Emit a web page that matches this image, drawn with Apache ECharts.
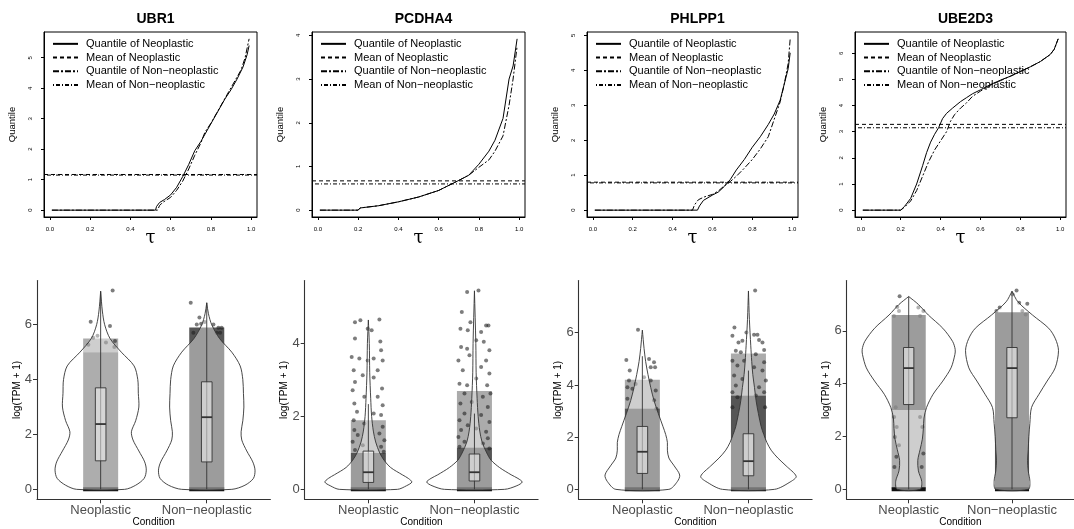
<!DOCTYPE html>
<html>
<head>
<meta charset="UTF-8">
<title>Quantile and violin plots</title>
<script src="https://cdn.jsdelivr.net/npm/echarts@6/dist/echarts.min.js"></script>
<style>
    html, body { margin: 0; padding: 0; background: #fff; }
    #chart { width: 1074px; height: 529px; }
</style>
</head>
<body>
<div id="chart"></div>
<script>
var genes = ['UBR1', 'PCDHA4', 'PHLPP1', 'UBE2D3'];
var conditions = ['Neoplastic', 'Non\u2212neoplastic'];
var legendNames = ['Quantile of Neoplastic', 'Mean of Neoplastic', 'Quantile of Non\u2212neoplastic', 'Mean of Non\u2212neoplastic'];
var tauTicks = [0, 0.2, 0.4, 0.6, 0.8, 1.0];
var tauRange = [0.01, 0.99];

// quantile curves, [tau, quantile]
var quantNeo = [
    [[0.01,0],[0.525,0],[0.53,0.12],[0.545,0.25],[0.57,0.35],[0.6,0.5],[0.63,0.75],[0.66,1.1],[0.69,1.5],[0.72,1.95],[0.75,2.25],[0.78,2.6],[0.81,2.95],[0.84,3.3],[0.87,3.65],[0.9,3.95],[0.93,4.3],[0.96,4.7],[0.98,5.1],[0.99,5.4]],
    [[0.01,0],[0.2,0],[0.21,0.05],[0.3,0.1],[0.4,0.19],[0.5,0.3],[0.6,0.45],[0.7,0.68],[0.75,0.8],[0.8,1.05],[0.85,1.35],[0.88,1.6],[0.92,2.1],[0.95,3.0],[0.97,3.3],[0.99,3.92]],
    [[0.01,0],[0.525,0],[0.535,0.12],[0.555,0.28],[0.6,0.43],[0.63,0.52],[0.66,0.68],[0.69,0.88],[0.72,1.15],[0.76,1.45],[0.8,1.8],[0.84,2.1],[0.88,2.45],[0.91,2.75],[0.94,3.15],[0.96,3.6],[0.98,4.05],[0.99,4.5]],
    [[0.01,0],[0.2,0],[0.22,0.15],[0.25,0.45],[0.28,1.0],[0.31,1.7],[0.33,2.2],[0.35,2.6],[0.37,2.9],[0.39,3.15],[0.41,3.5],[0.43,3.7],[0.46,3.9],[0.5,4.15],[0.53,4.3],[0.56,4.45],[0.6,4.6],[0.65,4.8],[0.7,4.97],[0.75,5.12],[0.8,5.3],[0.85,5.48],[0.9,5.68],[0.95,5.95],[0.97,6.15],[0.99,6.55]]
];
var quantNon = [
    [[0.01,0],[0.535,0],[0.545,0.15],[0.56,0.25],[0.6,0.42],[0.63,0.65],[0.66,0.95],[0.69,1.35],[0.72,1.8],[0.75,2.2],[0.77,2.55],[0.8,2.85],[0.83,3.2],[0.86,3.55],[0.89,3.9],[0.92,4.25],[0.95,4.6],[0.97,5.0],[0.99,5.62]],
    [[0.01,0],[0.2,0],[0.21,0.05],[0.3,0.1],[0.4,0.19],[0.5,0.3],[0.6,0.45],[0.7,0.68],[0.75,0.8],[0.8,0.98],[0.85,1.15],[0.88,1.35],[0.92,1.7],[0.95,2.4],[0.97,3.0],[0.99,3.75]],
    [[0.01,0],[0.5,0],[0.51,0.15],[0.53,0.3],[0.56,0.38],[0.6,0.45],[0.63,0.55],[0.66,0.7],[0.69,0.82],[0.72,0.97],[0.76,1.2],[0.8,1.45],[0.84,1.75],[0.88,2.1],[0.91,2.6],[0.94,3.1],[0.96,3.6],[0.98,4.2],[0.99,4.9]],
    [[0.01,0],[0.2,0],[0.22,0.12],[0.25,0.35],[0.28,0.75],[0.31,1.3],[0.34,1.85],[0.37,2.3],[0.4,2.65],[0.43,3.0],[0.45,3.4],[0.47,3.65],[0.5,3.9],[0.53,4.1],[0.56,4.35],[0.6,4.55],[0.65,4.78],[0.7,4.95],[0.75,5.12],[0.8,5.3],[0.85,5.48],[0.9,5.68],[0.95,5.95],[0.97,6.15],[0.99,6.55]]
];
var meanNeo = [1.17, 0.67, 0.80, 3.28];
var meanNon = [1.15, 0.60, 0.78, 3.15];

// violin outlines, [log(TPM+1), half width in category units]
var violinNeo = [
    [[0,0.226],[0.15,0.33],[0.4,0.41],[0.7,0.43],[1.0,0.415],[1.4,0.36],[1.8,0.305],[2.1,0.29],[2.5,0.33],[3.0,0.36],[3.5,0.355],[4.0,0.35],[4.5,0.315],[5.0,0.195],[5.5,0.088],[6.0,0.038],[6.5,0.016],[7.22,0]],
    [[0,0.274],[0.1,0.36],[0.2,0.41],[0.3,0.377],[0.4,0.32],[0.6,0.21],[0.8,0.148],[1.0,0.107],[1.3,0.069],[1.6,0.047],[2.0,0.031],[2.5,0.022],[3.2,0.013],[4.0,0.009],[4.65,0]],
    [[0,0.25],[0.3,0.33],[0.55,0.352],[0.9,0.3],[1.2,0.25],[1.5,0.236],[1.8,0.236],[2.1,0.22],[2.4,0.195],[2.9,0.151],[3.4,0.11],[3.9,0.079],[4.4,0.053],[4.9,0.031],[5.4,0.016],[6.1,0]],
    [[0,0.11],[0.3,0.126],[0.7,0.094],[1.1,0.088],[1.5,0.11],[1.9,0.132],[2.3,0.142],[2.7,0.148],[3.1,0.173],[3.6,0.236],[4.1,0.33],[4.6,0.41],[5.1,0.447],[5.3,0.45],[5.6,0.425],[6.1,0.33],[6.6,0.19],[7.0,0.094],[7.3,0]]
];
var violinNon = [
    [[0,0.236],[0.15,0.36],[0.4,0.44],[0.7,0.455],[1.0,0.434],[1.4,0.377],[1.8,0.33],[2.1,0.324],[2.5,0.34],[3.0,0.35],[3.5,0.346],[4.0,0.34],[4.5,0.315],[5.0,0.236],[5.5,0.12],[6.0,0.047],[6.4,0.016],[6.8,0]],
    [[0,0.283],[0.1,0.4],[0.2,0.45],[0.3,0.41],[0.4,0.346],[0.6,0.236],[0.8,0.157],[1.0,0.116],[1.3,0.072],[1.6,0.05],[2.0,0.035],[2.5,0.025],[3.2,0.016],[4.0,0.013],[5.45,0]],
    [[0,0.245],[0.3,0.4],[0.5,0.45],[0.9,0.355],[1.2,0.277],[1.5,0.214],[1.8,0.173],[2.1,0.145],[2.4,0.12],[2.9,0.094],[3.4,0.072],[3.9,0.057],[4.4,0.041],[4.9,0.031],[5.5,0.022],[6.5,0.009],[7.6,0]],
    [[0,0.157],[0.3,0.173],[0.7,0.157],[1.1,0.151],[1.5,0.157],[2.0,0.163],[2.5,0.173],[3.1,0.189],[3.6,0.261],[4.1,0.34],[4.6,0.418],[5.25,0.45],[5.7,0.42],[6.1,0.355],[6.6,0.198],[7.1,0.057],[7.5,0]]
];

// box stats, [lower whisker, Q1, median, Q3, upper whisker]
var boxNeo = [[0,1.04,2.38,3.70,7.22],[0,0.19,0.47,1.05,2.34],[0,0.61,1.44,2.41,5.1],[0,3.21,4.59,5.37,7.3]];
var boxNon = [[0,1.0,2.63,3.92,6.8],[0,0.23,0.47,0.97,2.08],[0,0.52,1.08,2.13,4.55],[0,2.71,4.59,5.37,7.5]];

// jittered point clouds, [category, from, to]
var cloudDense = [
    [[2,0,5.9]],
    [[1,0,1.0],[2,0,1.15]],
    [[1,0,3.1],[2,0,3.6]],
    [[1,3.0,6.6],[2,0,6.7]]
];
var cloudMid = [
    [[1,0,5.0]],
    [],
    [],
    []
];
var cloudLight = [
    [[1,5.0,5.5]],
    [[1,1.0,1.9],[2,1.15,2.7]],
    [[1,3.1,4.2],[2,3.6,5.2]],
    [[1,0,3.0]]
];

// sparse jittered points, [category, offset, value]
var pointsSparse = [
    [[1,0.113,7.25],[1,-0.094,6.11],[1,0.088,5.95],[1,-0.07,5.53],[1,-0.116,5.27],[1,0.135,5.41],[1,0.129,5.19],[1,-0.03,5.6],[1,0.05,5.35],
     [2,-0.151,6.8],[2,-0.069,6.26],[2,-0.094,6.01],[2,-0.053,6.04],[2,0.063,6.01],[2,0.11,5.89],[2,0.14,5.89],[2,0.094,5.71],[2,-0.126,5.71],[2,0.126,5.71],[2,-0.02,6.1]],
    [[1,-0.075,4.64],[1,-0.126,4.59],[1,0.104,4.66],[1,-0.006,4.41],[1,0.031,4.37],[1,-0.126,4.14],[1,0.113,4.06],[1,-0.157,3.63],[1,-0.085,3.59],[1,-0.006,3.54],
     [1,0.05,3.59],[1,0.12,3.82],[1,0.135,3.54],[1,-0.138,3.27],[1,-0.053,3.13],[1,0.088,3.27],[1,-0.126,2.95],[1,0.05,3.07],[1,0.129,2.77],[1,-0.148,2.72],
     [1,-0.038,2.54],[1,0.088,2.54],[1,-0.132,2.36],[1,0.135,2.31],[1,-0.107,2.13],[1,0.05,2.08],[1,0.12,2.04],[1,-0.138,1.9],[1,-0.038,1.81],[1,0.135,1.72],
     [1,-0.132,1.63],[1,0.104,1.53],[1,-0.1,1.49],[1,0.151,1.35],[1,-0.148,1.31],[1,-0.053,1.21],[1,0.12,1.17],[1,-0.126,1.08],[1,0.145,1.03],
     [2,-0.069,5.42],[2,0.038,5.46],[2,-0.119,4.87],[2,-0.038,4.59],[2,-0.132,4.41],[2,-0.063,4.37],[2,0.11,4.5],[2,0.132,4.5],[2,0.063,4.32],[2,-0.126,3.91],
     [2,-0.069,3.86],[2,0.016,4.09],[2,0.088,4.05],[2,-0.151,3.54],[2,-0.047,3.68],[2,0.11,3.54],[2,0.141,3.82],[2,-0.11,3.27],[2,0.063,3.36],[2,0.141,3.18],
     [2,-0.141,2.9],[2,-0.069,2.86],[2,0.016,3.04],[2,0.12,2.86],[2,-0.094,2.63],[2,0.079,2.54],[2,0.151,2.63],[2,-0.132,2.36],[2,-0.025,2.4],[2,0.126,2.26],
     [2,-0.094,2.08],[2,0.063,2.04],[2,-0.141,1.9],[2,0.141,1.85],[2,-0.063,1.76],[2,-0.126,1.63],[2,0.11,1.58],[2,0.016,1.67],[2,-0.151,1.44],[2,0.126,1.4],
     [2,-0.094,1.31],[2,0.079,1.26],[2,-0.141,1.17],[2,0.141,1.12]],
    [[1,-0.041,6.11],[1,-0.151,4.96],[1,0.063,4.99],[1,0.11,4.87],[1,0.12,4.68],[1,0.079,4.68],[1,-0.119,4.55],[1,-0.126,4.17],[1,-0.141,3.91],[1,-0.094,3.85],
     [1,-0.141,3.47],[1,0.079,4.17],[1,0.126,3.79],[1,0.11,3.41],[1,0.132,3.09],[1,0.016,4.29],[1,-0.063,4.04],
     [2,0.063,7.62],[2,-0.132,6.2],[2,-0.019,6.01],[2,0.053,5.92],[2,0.085,5.92],[2,-0.151,5.88],[2,-0.057,5.69],[2,-0.094,5.63],[2,0.1,5.72],[2,0.132,5.63],
     [2,0.148,5.34],[2,-0.119,5.31],[2,-0.072,5.25],[2,0.069,5.18],[2,-0.151,4.93],[2,0.148,4.87],[2,-0.041,4.93],[2,-0.104,4.74],[2,0.053,4.68],[2,0.132,4.55],
     [2,-0.135,4.36],[2,-0.057,4.23],[2,0.164,4.17],[2,-0.119,3.98],[2,0.1,3.91],[2,-0.151,3.72],[2,0.148,3.72],[2,-0.104,3.53],[2,0.069,3.6],[2,-0.151,3.15],[2,0.157,3.15]],
    [[1,-0.088,7.31],[1,-0.11,6.9],[1,-0.094,6.75],[1,0.094,6.88],[1,0.142,6.75],[1,0.11,6.56],[1,-0.142,6.56],
     [1,-0.126,3.11],[1,-0.141,2.74],[1,-0.116,2.36],[1,-0.132,1.98],[1,-0.094,1.67],[1,-0.119,1.23],[1,-0.138,0.85],[1,0.11,2.74],[1,0.132,2.36],[1,0.142,1.36],[1,0.126,0.85],
     [2,0.044,7.53],[2,0.006,7.38],[2,0.069,7.06],[2,0.148,7.03],[2,-0.119,6.88],[2,-0.151,6.75],[2,0.1,6.75],[2,0.132,6.62]]
];

// ---------------- layout ----------------
var topLeft = [44, 312, 587, 855];
var topWidth = [213, 213, 211, 211];
var botLeft = [37, 304.7, 578.7, 846.7];
var botWidth = 233.4;
var JIT = 0.165;     // jitter half width (category units)
var BOXW = 0.05;     // boxplot half width
var font = 'Liberation Sans';

var tauPad = (tauRange[1] - tauRange[0]) * 0.04;
var tauMin = tauRange[0] - tauPad, tauMax = tauRange[1] + tauPad;

var gridsTop = [], gridsBot = [], xTop = [], xBot = [], yTop = [], yBot = [];
var series = [], titles = [], legends = [];

function maxOf(list) {
    var m = 0;
    list.forEach(function (p) { m = Math.max(m, p[p.length - 1]); });
    return m;
}

genes.forEach(function (g, i) {
    // ---- quantile panel (grid i) ----
    var qmax = Math.max(maxOf(quantNeo[i]), maxOf(quantNon[i]), meanNeo[i], meanNon[i]);
    var yTicks = [];
    for (var t = 0; t <= 1.04 * qmax; t++) yTicks.push(t);
    gridsTop.push({left: topLeft[i], top: 32, width: topWidth[i], height: 185, show: true,
        borderColor: '#000', borderWidth: 1, backgroundColor: 'transparent'});
    xTop.push({
        gridIndex: i, type: 'value', min: tauMin, max: tauMax,
        axisLine: {show: true, onZero: false, lineStyle: {color: '#000', width: 1}},
        axisTick: {show: true, length: 3, customValues: tauTicks, lineStyle: {color: '#000'}},
        axisLabel: {customValues: tauTicks, formatter: function (v) { return v.toFixed(1); },
            fontSize: 6, color: '#000', margin: 9, fontFamily: font},
        splitLine: {show: false},
        name: '\u03c4', nameLocation: 'middle', nameGap: 12, nameMoveOverlap: false,
        nameTextStyle: {fontSize: 18, color: '#000', fontFamily: 'DejaVu Serif'}
    });
    yTop.push({
        gridIndex: i, type: 'value', min: -0.04 * qmax, max: 1.04 * qmax,
        axisLine: {show: true, onZero: false, lineStyle: {color: '#000', width: 1}},
        axisTick: {show: true, length: 3, customValues: yTicks, lineStyle: {color: '#000'}},
        axisLabel: {customValues: yTicks, rotate: 90, fontSize: 6, color: '#000', margin: 11, fontFamily: font},
        splitLine: {show: false},
        name: 'Quantile', nameLocation: 'middle', nameGap: 27, nameMoveOverlap: false,
        nameTextStyle: {fontSize: 9.5, color: '#000', fontFamily: font}
    });
    titles.push({text: g, left: topLeft[i] + topWidth[i] / 2, top: 7, textAlign: 'center',
        textStyle: {fontSize: 14, fontWeight: 'bold', color: '#000', fontFamily: font}});
    legends.push({
        data: legendNames, orient: 'vertical', left: topLeft[i] + 8, top: 37,
        itemWidth: 25, itemHeight: 10, itemGap: 0, padding: 0, selectedMode: false,
        itemStyle: {opacity: 0},
        textStyle: {fontSize: 11, lineHeight: 13.7, color: '#000', fontFamily: font, padding: [0, 0, 0, 3]}
    });
    var lineBase = {type: 'line', xAxisIndex: i, yAxisIndex: i, symbol: 'none', showSymbol: false,
        animation: false, silent: true, itemStyle: {color: '#000'}};
    series.push(Object.assign({}, lineBase, {name: legendNames[0], data: quantNeo[i],
        lineStyle: {color: '#000', width: 1, type: 'solid'}}));
    series.push(Object.assign({}, lineBase, {name: legendNames[1], data: [[tauMin, meanNeo[i]], [tauMax, meanNeo[i]]],
        lineStyle: {color: '#000', width: 1, type: [4, 3]}}));
    series.push(Object.assign({}, lineBase, {name: legendNames[2], data: quantNon[i],
        lineStyle: {color: '#000', width: 1, type: [6, 2, 2, 2]}}));
    series.push(Object.assign({}, lineBase, {name: legendNames[3], data: [[tauMin, meanNon[i]], [tauMax, meanNon[i]]],
        lineStyle: {color: '#000', width: 1, type: [1, 2, 4, 2]}}));

    // ---- violin panel (grid 4 + i) ----
    var k = 4 + i;
    var vmax = Math.max(maxOf(violinNeo[i].map(function (p) { return [p[0]]; })),
        maxOf(violinNon[i].map(function (p) { return [p[0]]; })),
        maxOf(pointsSparse[i]), boxNeo[i][4], boxNon[i][4]);
    var vTicks = [0, 2, 4, 6].filter(function (v) { return v <= vmax; });
    gridsBot.push({left: botLeft[i], top: 280.5, width: botWidth, height: 218.8});
    xBot.push({
        gridIndex: k, type: 'value', min: 0.4, max: 2.6,
        axisLine: {show: true, onZero: false, lineStyle: {color: '#333', width: 1.1}},
        axisTick: {show: true, length: 4, customValues: [1, 2], lineStyle: {color: '#333'}},
        axisLabel: {customValues: [1, 2], formatter: function (v) { return conditions[Math.round(v) - 1]; },
            fontSize: 13, color: '#4d4d4d', margin: 5, fontFamily: font},
        splitLine: {show: false},
        name: 'Condition', nameLocation: 'middle', nameGap: 18, nameMoveOverlap: false,
        nameTextStyle: {fontSize: 10, color: '#000', fontFamily: font}
    });
    yBot.push({
        gridIndex: k, type: 'value', min: -0.05 * vmax, max: 1.05 * vmax,
        axisLine: {show: true, onZero: false, lineStyle: {color: '#333', width: 1.1}},
        axisTick: {show: true, length: 4, customValues: vTicks, lineStyle: {color: '#333'}},
        axisLabel: {customValues: vTicks, fontSize: 13, color: '#4d4d4d', margin: 5, fontFamily: font},
        splitLine: {show: false},
        name: 'log(TPM + 1)', nameLocation: 'middle', nameGap: 15, nameMoveOverlap: false,
        nameTextStyle: {fontSize: 10, color: '#000', fontFamily: font}
    });

    function bandRender(fill) {
        return function (params, api) {
            var c = api.value(0);
            var p0 = api.coord([c - JIT, api.value(2)]);
            var p1 = api.coord([c + JIT, api.value(1)]);
            return {type: 'rect', shape: {x: p0[0], y: p0[1], width: p1[0] - p0[0], height: p1[1] - p0[1]},
                style: {fill: fill}};
        };
    }
    var customBase = {type: 'custom', xAxisIndex: k, yAxisIndex: k, animation: false, silent: true};
    series.push(Object.assign({}, customBase, {z: 2, data: cloudDense[i],
        renderItem: bandRender('rgba(55,55,55,0.85)')}));
    series.push(Object.assign({}, customBase, {z: 2, data: cloudMid[i],
        renderItem: bandRender('rgba(55,55,55,0.7)')}));
    series.push(Object.assign({}, customBase, {z: 2, data: cloudLight[i],
        renderItem: bandRender('rgba(55,55,55,0.42)')}));
    series.push(Object.assign({}, customBase, {z: 3, data: [[1], [2]],
        renderItem: function (params, api) {
            var c = api.value(0);
            var p0 = api.coord([c - JIT, 0]), p1 = api.coord([c + JIT, 0]);
            return {type: 'rect', shape: {x: p0[0], y: p0[1] - 2, width: p1[0] - p0[0], height: 4},
                style: {fill: '#111'}};
        }}));
    series.push({type: 'scatter', xAxisIndex: k, yAxisIndex: k, z: 3, animation: false, silent: true,
        symbolSize: 4, itemStyle: {color: 'rgba(30,30,30,0.72)'},
        data: pointsSparse[i].map(function (p) { return [p[0] + p[1], p[2]]; })});

    [violinNeo[i], violinNon[i]].forEach(function (profile, ci) {
        var cat = ci + 1;
        series.push(Object.assign({}, customBase, {z: 4, data: [[cat, 0]],
            renderItem: function (params, api) {
                var left = [], right = [];
                profile.forEach(function (p) {
                    left.push(api.coord([cat - p[1], p[0]]));
                    right.push(api.coord([cat + p[1], p[0]]));
                });
                return {type: 'polygon', shape: {points: left.concat(right.reverse()), smooth: 0.3},
                    style: {fill: 'rgba(255,255,255,0.42)', stroke: '#333', lineWidth: 0.9}};
            }}));
    });

    series.push(Object.assign({}, customBase, {z: 5,
        data: [[1].concat(boxNeo[i]), [2].concat(boxNon[i])],
        renderItem: function (params, api) {
            var c = api.value(0);
            var lo = api.coord([c, api.value(1)]), hi = api.coord([c, api.value(5)]);
            var q1 = api.coord([c - BOXW, api.value(2)]), q3 = api.coord([c + BOXW, api.value(4)]);
            var mdL = api.coord([c - BOXW, api.value(3)]), mdR = api.coord([c + BOXW, api.value(3)]);
            var st = {stroke: '#333', lineWidth: 0.9};
            return {type: 'group', children: [
                {type: 'line', shape: {x1: lo[0], y1: lo[1], x2: hi[0], y2: hi[1]}, style: st},
                {type: 'rect', shape: {x: q1[0], y: q3[1], width: q3[0] - q1[0], height: q1[1] - q3[1]},
                    style: {fill: 'rgba(255,255,255,0.5)', stroke: '#333', lineWidth: 0.9}},
                {type: 'line', shape: {x1: mdL[0], y1: mdL[1], x2: mdR[0], y2: mdR[1]},
                    style: {stroke: '#333', lineWidth: 1.8}}
            ]};
        }}));
});

var chart = echarts.init(document.getElementById('chart'), null, {renderer: 'canvas'});
chart.setOption({
    backgroundColor: '#fff',
    animation: false,
    textStyle: {fontFamily: font},
    title: titles,
    legend: legends,
    grid: gridsTop.concat(gridsBot),
    xAxis: xTop.concat(xBot),
    yAxis: yTop.concat(yBot),
    series: series
});
</script>
</body>
</html>
